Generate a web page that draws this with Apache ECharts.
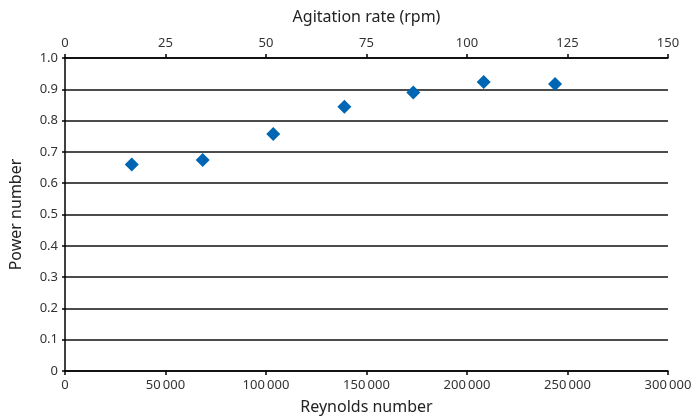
<!DOCTYPE html>
<html><head><meta charset="utf-8">
<script src="https://cdn.jsdelivr.net/npm/echarts@6/dist/echarts.min.js"></script>
<style>html,body{margin:0;padding:0;background:#fff}#c{width:696px;height:418px}</style>
</head><body><div id="c"></div>
<script>
const reynolds = [33200, 68500, 103600, 139000, 173300, 208300, 243800];
const powerNumber = [0.660, 0.674, 0.757, 0.844, 0.890, 0.923, 0.917];
const yTicks = [0, 0.1, 0.2, 0.3, 0.4, 0.5, 0.6, 0.7, 0.8, 0.9, 1.0];
const rpmRange = [0, 150];
const reRange = [0, 300000];

const FONT = 'Noto Sans';
const data = reynolds.map((r, i) => [r, powerNumber[i]]);
const chart = echarts.init(document.getElementById('c'), null, {renderer: 'canvas'});
chart.setOption({
  animation: false,
  textStyle: {fontFamily: FONT},
  grid: {left: 65, right: 28, top: 58, bottom: 47, containLabel: false, outerBoundsMode: 'none'},
  xAxis: [{
    type: 'value', position: 'bottom', min: reRange[0], max: reRange[1], interval: 50000,
    name: 'Reynolds number', nameLocation: 'middle', nameGap: 28,
    nameTextStyle: {fontSize: 16, color: '#222', fontFamily: FONT},
    axisLine: {show: true, lineStyle: {color: '#000', width: 1.5}},
    axisTick: {show: true, inside: false, length: 4, lineStyle: {color: '#000', width: 1.5}},
    axisLabel: {fontSize: 13, color: '#333', margin: 8, fontFamily: FONT,
      formatter: v => v === 0 ? '0' : String(v).replace(/\B(?=(\d{3})+(?!\d))/g, '\u2009')},
    splitLine: {show: false}
  }, {
    type: 'value', position: 'top', min: rpmRange[0], max: rpmRange[1], interval: 25,
    name: 'Agitation rate (rpm)', nameLocation: 'middle', nameGap: 33,
    nameTextStyle: {fontSize: 16, color: '#222', fontFamily: FONT},
    axisLine: {show: true, lineStyle: {color: '#000', width: 1.5}},
    axisTick: {show: true, inside: false, length: 4, lineStyle: {color: '#000', width: 1.5}},
    axisLabel: {fontSize: 13, color: '#333', margin: 8, fontFamily: FONT},
    splitLine: {show: false}
  }],
  yAxis: {
    type: 'value', min: yTicks[0], max: yTicks[yTicks.length - 1], interval: 0.1,
    name: 'Power number', nameLocation: 'middle', nameGap: 41, nameRotate: 90,
    nameTextStyle: {fontSize: 16, color: '#222', fontFamily: FONT},
    axisLine: {show: true, lineStyle: {color: '#000', width: 1.5}},
    axisTick: {show: true, length: 3, lineStyle: {color: '#000', width: 1.5}},
    axisLabel: {fontSize: 13, color: '#333', margin: 7, fontFamily: FONT,
      padding: [0, 0, 6, 0],
      formatter: v => v === 0 ? '0' : v.toFixed(1)},
    splitLine: {show: true, lineStyle: {color: '#111', width: 1.5}}
  },
  series: [{
    type: 'scatter', xAxisIndex: 0, data: data,
    symbol: 'diamond', symbolSize: 14,
    itemStyle: {color: '#0066B3', opacity: 1}
  }]
});
</script></body></html>
